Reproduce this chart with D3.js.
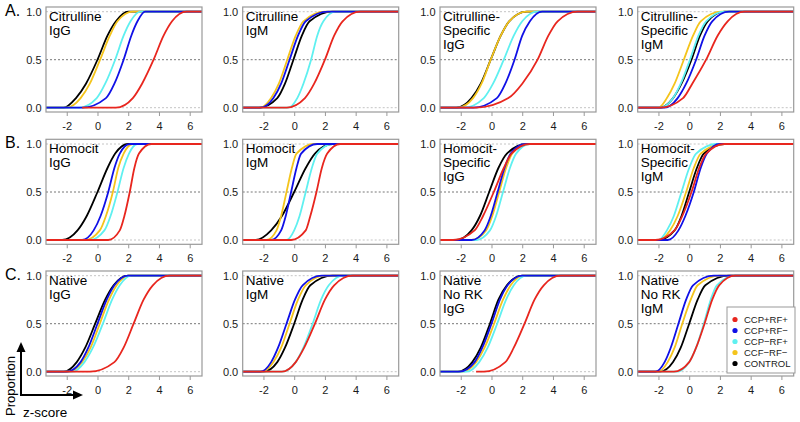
<!DOCTYPE html>
<html><head><meta charset="utf-8">
<script src="https://cdn.jsdelivr.net/npm/d3@7"></script>
<style>
html,body{margin:0;padding:0;background:#fff;}
svg{display:block;font-family:"Liberation Sans",Arial,sans-serif;}
</style></head>
<body>
<svg id="chart" width="800" height="422"></svg>
<script>
// ---------- data ----------
// proportion levels at which each curve's z-score was read:
// [line start, rise start, 10%, 25%, 50%, 75%, 90%, rise end, line end]
const probs = [0, 0, 0.1, 0.25, 0.5, 0.75, 0.9, 1, 1];

const seriesNames = ["CCP+RF+", "CCP+RF\u2212", "CCP\u2212RF+", "CCF\u2212RF\u2212", "CONTROL"];
const seriesColors = ["#e8261e", "#1010e6", "#5ff0f0", "#f4c41c", "#000000"];

const panelTitles = [
  ["Citrulline", "IgG"], ["Citrulline", "IgM"], ["Citrulline-", "Specific", "IgG"], ["Citrulline-", "Specific", "IgM"],
  ["Homocit", "IgG"], ["Homocit", "IgM"], ["Homocit-", "Specific", "IgG"], ["Homocit-", "Specific", "IgM"],
  ["Native", "IgG"], ["Native", "IgM"], ["Native", "No RK", "IgG"], ["Native", "No RK", "IgM"]
];
const rowLetters = ["A.", "B.", "C."];
const xTicks = [-2, 0, 2, 4, 6];
const yTicks = [0, 0.5, 1];

// z-scores per panel (A1..A4, B1..B4, C1..C4) at the levels in probs
const ccpPosRfPos = [
  [-1.0, 1.2, 2.3, 2.9, 3.65, 4.3, 4.85, 5.8, 6.9],
  [-3.4, -0.5, 0.7, 1.3, 2.0, 2.6, 3.15, 4.3, 6.9],
  [-3.4, -1.0, 1.1, 2.0, 3.0, 3.7, 4.3, 5.6, 6.9],
  [-3.4, -1.9, -0.4, 0.2, 1.1, 1.85, 2.5, 3.6, 6.9],
  [-3.4, 0.7, 1.45, 1.75, 2.1, 2.4, 2.7, 3.5, 6.9],
  [-3.4, -0.2, 0.75, 1.05, 1.45, 1.8, 2.15, 3.0, 6.9],
  [-3.4, -2.5, -1.1, -0.55, 0.15, 0.8, 1.3, 2.5, 6.9],
  [-3.4, -2.2, -0.95, -0.45, 0.15, 0.65, 1.1, 2.3, 6.9],
  [-3.4, -0.5, 1.1, 1.7, 2.35, 3.0, 3.6, 4.7, 6.9],
  [-3.4, -0.8, 0.1, 0.65, 1.35, 2.0, 2.6, 3.8, 6.9],
  [-1.0, -0.5, 0.9, 1.45, 2.15, 2.8, 3.4, 4.5, 6.9],
  [-3.4, -1.0, 0.0, 0.45, 1.0, 1.5, 1.95, 3.0, 6.9]
];
const ccpPosRfNeg = [
  [-3.4, -1.0, 0.55, 1.1, 1.7, 2.2, 2.6, 3.1, 6.9],
  [-3.4, -2.2, -1.35, -0.85, -0.3, 0.25, 0.75, 2.2, 6.9],
  [-3.4, -1.2, 0.35, 0.9, 1.5, 2.0, 2.5, 3.3, 6.9],
  [-3.4, -1.6, -0.75, -0.2, 0.45, 1.0, 1.5, 2.6, 6.9],
  [-3.4, -1.0, -0.25, 0.2, 0.7, 1.1, 1.45, 2.1, 6.9],
  [-3.4, -1.5, -0.85, -0.55, -0.2, 0.15, 0.45, 1.5, 6.9],
  [-3.4, -1.3, -0.45, -0.05, 0.4, 0.85, 1.25, 2.2, 6.9],
  [-3.4, -1.4, -0.7, -0.25, 0.3, 0.75, 1.15, 2.0, 6.9],
  [-3.4, -2.0, -1.1, -0.6, 0.0, 0.6, 1.1, 2.0, 6.9],
  [-3.4, -2.2, -1.5, -1.05, -0.5, 0.05, 0.55, 1.8, 6.9],
  [-3.4, -2.1, -1.1, -0.6, 0.0, 0.55, 1.05, 2.0, 6.9],
  [-3.4, -2.2, -1.6, -1.2, -0.7, -0.2, 0.25, 1.6, 6.9]
];
const ccpNegRfPos = [
  [-3.4, -1.2, -0.05, 0.5, 1.15, 1.7, 2.15, 2.8, 6.9],
  [-3.4, -0.4, 0.2, 0.6, 1.1, 1.5, 1.9, 2.7, 6.9],
  [-3.4, -1.8, -0.5, 0.1, 0.8, 1.45, 2.0, 3.0, 6.9],
  [-3.4, -1.9, -1.05, -0.55, 0.05, 0.6, 1.1, 2.3, 6.9],
  [-3.4, -0.5, 0.45, 0.85, 1.3, 1.7, 2.05, 2.6, 6.9],
  [-3.4, -0.5, 0.0, 0.35, 0.75, 1.15, 1.5, 2.5, 6.9],
  [-3.4, -1.0, -0.1, 0.3, 0.75, 1.2, 1.6, 2.5, 6.9],
  [-3.4, -2.0, -1.45, -1.0, -0.5, 0.0, 0.45, 1.8, 6.9],
  [-3.4, -1.6, -0.85, -0.3, 0.35, 0.95, 1.45, 2.2, 6.9],
  [-3.4, -0.8, 0.1, 0.6, 1.2, 1.75, 2.25, 3.2, 6.9],
  [-3.4, -1.6, -0.8, -0.25, 0.37, 0.95, 1.45, 2.3, 6.9],
  [-3.4, -0.8, 0.0, 0.45, 0.95, 1.4, 1.8, 3.0, 6.9]
];
const ccfNegRfNeg = [
  [-3.4, -2.0, -1.1, -0.5, 0.17, 0.8, 1.3, 2.3, 6.9],
  [-3.4, -2.2, -1.5, -1.0, -0.45, 0.1, 0.6, 2.0, 6.9],
  [-3.4, -2.2, -1.2, -0.65, -0.05, 0.6, 1.15, 2.3, 6.9],
  [-3.4, -2.0, -1.45, -0.95, -0.35, 0.25, 0.75, 2.1, 6.9],
  [-3.4, -0.8, 0.15, 0.55, 1.0, 1.35, 1.7, 2.3, 6.9],
  [-3.4, -1.8, -1.15, -0.85, -0.5, -0.15, 0.15, 1.3, 6.9],
  [-3.4, -1.3, -0.35, 0.05, 0.5, 0.95, 1.35, 2.2, 6.9],
  [-3.4, -2.0, -1.25, -0.75, -0.2, 0.3, 0.75, 2.2, 6.9],
  [-3.4, -1.9, -1.0, -0.45, 0.15, 0.75, 1.25, 2.1, 6.9],
  [-3.4, -2.1, -1.35, -0.85, -0.3, 0.25, 0.75, 2.0, 6.9],
  [-3.4, -1.9, -1.0, -0.45, 0.17, 0.75, 1.25, 2.1, 6.9],
  [-3.4, -2.0, -1.4, -0.95, -0.45, 0.1, 0.55, 2.0, 6.9]
];
const control = [
  [-3.4, -2.2, -1.4, -0.75, 0.0, 0.65, 1.2, 2.0, 6.9],
  [-3.4, -2.3, -1.1, -0.6, -0.05, 0.5, 1.0, 2.5, 6.9],
  [-3.4, -2.3, -1.3, -0.7, -0.05, 0.6, 1.15, 2.3, 6.9],
  [-3.4, -1.9, -1.05, -0.5, 0.15, 0.7, 1.2, 2.3, 6.9],
  [-3.4, -2.3, -1.3, -0.7, 0.0, 0.65, 1.15, 2.0, 6.9],
  [-3.4, -2.5, -1.5, -0.8, 0.0, 0.75, 1.35, 2.5, 6.9],
  [-3.4, -2.3, -1.3, -0.75, -0.15, 0.45, 1.0, 2.3, 6.9],
  [-3.4, -2.0, -0.95, -0.5, 0.0, 0.5, 0.95, 2.3, 6.9],
  [-3.4, -2.2, -1.35, -0.8, -0.15, 0.5, 1.05, 2.0, 6.9],
  [-3.4, -2.0, -1.1, -0.6, 0.0, 0.55, 1.05, 2.5, 6.9],
  [-3.4, -2.2, -1.25, -0.7, -0.1, 0.45, 1.0, 2.0, 6.9],
  [-3.4, -1.9, -1.05, -0.55, 0.0, 0.55, 1.05, 2.6, 6.9]
];
const seriesData = [ccpPosRfPos, ccpPosRfNeg, ccpNegRfPos, ccfNegRfNeg, control];
const drawOrder = [4, 3, 2, 1, 0];

// ---------- layout ----------
const svg = d3.select("#chart");
const FONT = "'Liberation Sans', Arial, sans-serif";
const panelW = 156, panelH = 105;
const colX = [46, 242.7, 440, 637.7];
const rowY = [7, 139.3, 271];

svg.append("defs").selectAll("clipPath")
  .data(d3.range(12)).join("clipPath")
  .attr("id", i => "clip" + i)
  .append("rect")
  .attr("x", i => colX[i % 4]).attr("y", i => rowY[Math.floor(i / 4)])
  .attr("width", panelW).attr("height", panelH);

for (let i = 0; i < 12; i++) {
  const c = i % 4, r = Math.floor(i / 4);
  const x0 = colX[c], y0 = rowY[r];
  const x = d3.scaleLinear().domain([-3.35, 6.8]).range([x0, x0 + panelW]);
  const y = d3.scaleLinear().domain([0, 1]).range([y0 + 100.7, y0 + 4.7]);
  const g = svg.append("g");

  // reference lines
  yTicks.forEach(v => {
    g.append("line")
      .attr("x1", x0).attr("x2", x0 + panelW)
      .attr("y1", y(v)).attr("y2", y(v))
      .attr("stroke", v === 0.5 ? "#777" : "#c4c4c4")
      .attr("stroke-width", 1)
      .attr("stroke-dasharray", "2,2");
  });

  // curves
  const line = d3.line().x(d => x(d[0])).y(d => y(d[1])).curve(d3.curveMonotoneX);
  const cg = g.append("g").attr("clip-path", `url(#clip${i})`);
  drawOrder.forEach(s => {
    const pts = seriesData[s][i].map((z, k) => [z, probs[k]]);
    cg.append("path")
      .attr("d", line(pts))
      .attr("fill", "none")
      .attr("stroke", seriesColors[s])
      .attr("stroke-width", 1.8)
      .attr("stroke-linejoin", "round");
  });

  // frame
  g.append("rect")
    .attr("x", x0).attr("y", y0).attr("width", panelW).attr("height", panelH)
    .attr("fill", "none").attr("stroke", "#999").attr("stroke-width", 1.2);

  // x axis
  const xa = g.append("g")
    .attr("transform", `translate(0,${y0 + panelH})`)
    .call(d3.axisBottom(x).tickValues(xTicks).tickSize(4).tickPadding(6).tickFormat(d => String(d)));
  xa.select(".domain").remove();
  xa.selectAll("line").attr("stroke", "#999");
  xa.selectAll("text").attr("font-family", FONT).attr("font-size", 11).attr("fill", "#1a1a1a");

  // y axis
  const ya = g.append("g")
    .attr("transform", `translate(${x0},0)`)
    .call(d3.axisLeft(y).tickValues(yTicks).tickSize(0).tickPadding(4.5).tickFormat(d3.format(".1f")));
  ya.select(".domain").remove();
  ya.selectAll("text").attr("font-family", FONT).attr("font-size", 11).attr("fill", "#1a1a1a");

  // panel title
  const t = g.append("text")
    .attr("x", x0 + 3).attr("y", y0 + 14)
    .attr("font-family", FONT).attr("font-size", 13.5).attr("fill", "#000");
  panelTitles[i].forEach((s, k) => {
    t.append("tspan").attr("x", x0 + 3).attr("dy", k === 0 ? 0 : 13.8).text(s);
  });
}

// row letters
rowLetters.forEach((L, r) => {
  svg.append("text").attr("x", 5).attr("y", rowY[r] + 8.5)
    .attr("font-family", FONT).attr("font-size", 16).attr("fill", "#000").text(L);
});

// legend (in last panel)
const lg = svg.append("g");
lg.append("rect").attr("x", 727).attr("y", 307).attr("width", 68).attr("height", 66)
  .attr("fill", "#fff").attr("stroke", "#999").attr("stroke-width", 1);
seriesNames.forEach((n, k) => {
  const cy = 319.5 + k * 11;
  lg.append("circle").attr("cx", 735).attr("cy", cy).attr("r", 2.6).attr("fill", seriesColors[k]);
  lg.append("text").attr("x", 744).attr("y", cy).attr("dy", "0.35em")
    .attr("font-family", FONT).attr("font-size", 9.5).attr("fill", "#222").text(n);
});

// axes key arrows
const ak = svg.append("g");
ak.append("line").attr("x1", 21).attr("y1", 396).attr("x2", 21).attr("y2", 350)
  .attr("stroke", "#000").attr("stroke-width", 2);
ak.append("path").attr("d", "M21,342 L16.5,352 L25.5,352 Z").attr("fill", "#000");
ak.append("line").attr("x1", 20).attr("y1", 395).attr("x2", 74).attr("y2", 395)
  .attr("stroke", "#000").attr("stroke-width", 2);
ak.append("path").attr("d", "M83,395 L73,390.5 L73,399.5 Z").attr("fill", "#000");
ak.append("text").attr("transform", "translate(15,386) rotate(-90)")
  .attr("text-anchor", "middle").attr("font-family", FONT).attr("font-size", 13).text("Proportion");
ak.append("text").attr("x", 23).attr("y", 417)
  .attr("font-family", FONT).attr("font-size", 13.5).text("z-score");
</script>
</body></html>
